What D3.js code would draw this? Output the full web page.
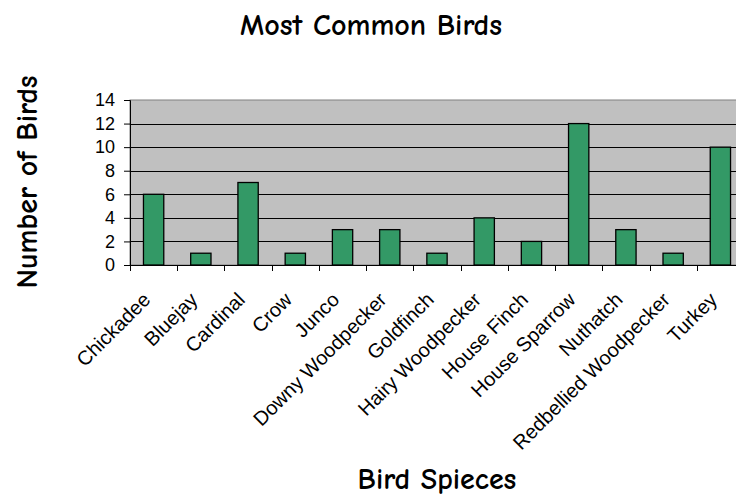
<!DOCTYPE html>
<html>
<head>
<meta charset="utf-8">
<script src="https://cdn.jsdelivr.net/npm/d3@7"></script>
<style>
  body { margin: 0; background: #fff; }
  svg { display: block; }
</style>
</head>
<body>
<div id="chart"></div>
<script>
const width = 736;
const height = 498;
const margin = ({ top: 100, right: -8, bottom: 233, left: 130 });

// data
const birds = ["Chickadee", "Bluejay", "Cardinal", "Crow", "Junco", "Downy Woodpecker", "Goldfinch",
  "Hairy Woodpecker", "House Finch", "House Sparrow", "Nuthatch", "Redbellied Woodpecker", "Turkey"];
const counts = [6, 1, 7, 1, 3, 3, 1, 4, 2, 12, 3, 1, 10];
const yTicks = [0, 2, 4, 6, 8, 10, 12, 14];

const data = birds.map((b, i) => ({ bird: b, count: counts[i] }));

const svg = d3.select("#chart")
  .append("svg")
  .attr("width", width)
  .attr("height", height);

let x = d3.scaleBand()
  .domain(birds)
  .range([margin.left, width - margin.right])
  .paddingInner(0.57)
  .paddingOuter(0.285);

let y = d3.scaleLinear()
  .domain([0, 14])
  .range([height - margin.bottom, margin.top]);

// plot background
svg.append("rect")
  .attr("x", margin.left)
  .attr("y", y(14))
  .attr("width", width - margin.right - margin.left)
  .attr("height", y(0) - y(14))
  .attr("fill", "#c0c0c0")
  .attr("stroke", "#808080")
  .attr("stroke-width", 1);

// gridlines
svg.append("g")
  .selectAll("line")
  .data(yTicks.filter(d => d > 0 && d < 14))
  .enter()
  .append("line")
  .attr("x1", margin.left)
  .attr("x2", width - margin.right)
  .attr("y1", d => Math.round(y(d)) + 0.5)
  .attr("y2", d => Math.round(y(d)) + 0.5)
  .attr("stroke", "#000")
  .attr("stroke-width", 1);

// bars
svg.append("g")
  .selectAll("rect")
  .data(data)
  .enter()
  .append("rect")
  .attr("x", d => x(d.bird))
  .attr("y", d => y(d.count))
  .attr("width", x.bandwidth())
  .attr("height", d => y(0) - y(d.count))
  .attr("fill", "#339966")
  .attr("stroke", "#000")
  .attr("stroke-width", 1.3);

// y axis
let yAxis = g => g
  .attr("transform", `translate(${margin.left},0)`)
  .call(d3.axisLeft(y).tickValues(yTicks).tickSize(6).tickPadding(9))
  .call(g => g.selectAll("text")
    .attr("font-family", "Arial, 'Liberation Sans', sans-serif")
    .attr("font-size", 18)
    .attr("fill", "#000"))
  .call(g => g.selectAll("line, path").attr("stroke", "#000"));

svg.append("g").call(yAxis);

// x axis: ticks on band edges
const step = x.step();
const edges = d3.range(birds.length + 1).map(i => margin.left + i * step);

svg.append("line")
  .attr("x1", margin.left)
  .attr("x2", width)
  .attr("y1", y(0) + 0.5)
  .attr("y2", y(0) + 0.5)
  .attr("stroke", "#000");

svg.append("g")
  .selectAll("line")
  .data(edges)
  .enter()
  .append("line")
  .attr("x1", d => Math.round(d) + 0.5)
  .attr("x2", d => Math.round(d) + 0.5)
  .attr("y1", y(0))
  .attr("y2", y(0) + 6)
  .attr("stroke", "#000");

svg.append("g")
  .selectAll("text")
  .data(birds)
  .enter()
  .append("text")
  .attr("transform", d => `translate(${x(d) + x.bandwidth() / 2 - 2},${y(0) + 36}) rotate(-45)`)
  .attr("text-anchor", "end")
  .attr("font-family", "Arial, 'Liberation Sans', sans-serif")
  .attr("font-size", 20)
  .attr("fill", "#000")
  .text(d => d);

// titles
const titleFont = "'Comic Sans MS', 'Comic Neue', 'DejaVu Sans', sans-serif";

svg.append("text")
  .attr("x", 371)
  .attr("y", 35)
  .attr("text-anchor", "middle")
  .attr("font-family", titleFont)
  .attr("font-weight", "bold")
  .attr("font-size", 30)
  .text("Most Common Birds");

svg.append("text")
  .attr("transform", "translate(37,182) rotate(-90)")
  .attr("text-anchor", "middle")
  .attr("font-family", titleFont)
  .attr("font-weight", "bold")
  .attr("font-size", 30)
  .text("Number of Birds");

svg.append("text")
  .attr("x", 437)
  .attr("y", 489)
  .attr("text-anchor", "middle")
  .attr("font-family", titleFont)
  .attr("font-weight", "bold")
  .attr("font-size", 30)
  .text("Bird Spieces");
</script>
</body>
</html>
